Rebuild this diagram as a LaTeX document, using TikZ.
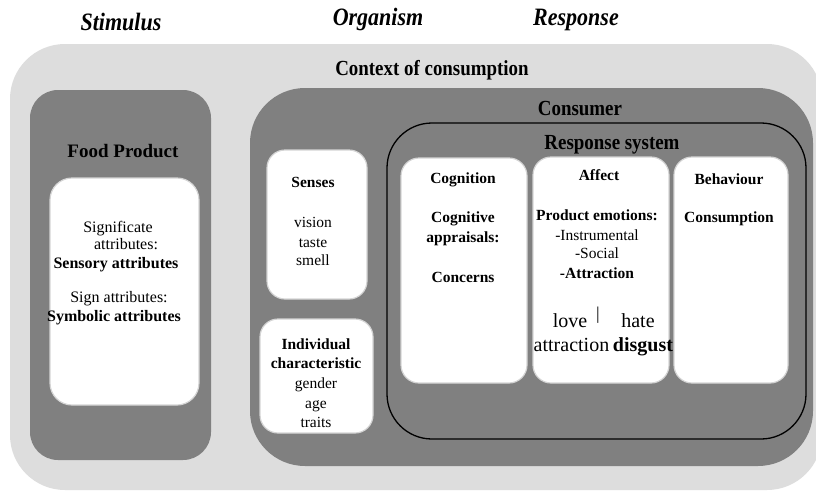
\documentclass[tikz,border=0pt]{standalone}
\usepackage{fontspec}
\setmainfont{Liberation Serif}
\newfontfamily\condfont{Liberation Serif}[FakeStretch=0.88]
\definecolor{lightbg}{HTML}{DDDDDD}
\definecolor{darkbg}{HTML}{808080}
\definecolor{boxline}{HTML}{D4D4D4}
\begin{document}
\begin{tikzpicture}[x=1pt,y=-1pt,
  region/.style={inner sep=0pt,outer sep=0pt},
  whitebox/.style={region,fill=white,draw=boxline,line width=1.2pt,rounded corners=18pt},
  hdr/.style={anchor=base,inner sep=0pt,font=\condfont\fontsize{25}{28}\selectfont\bfseries\itshape},
  ttl/.style={anchor=base,inner sep=0pt,font=\condfont\fontsize{21.5}{24}\selectfont\bfseries},
  txt/.style={anchor=base,inner sep=0pt,font=\fontsize{15.5}{19}\selectfont},
  btxt/.style={anchor=base,inner sep=0pt,font=\fontsize{15.5}{19}\selectfont\bfseries},
  ftxt/.style={anchor=base,inner sep=0pt,font=\fontsize{16}{19}\selectfont},
  fbtxt/.style={anchor=base,inner sep=0pt,font=\fontsize{16}{19}\selectfont\bfseries},
  big/.style={anchor=base,inner sep=0pt,font=\fontsize{20}{24}\selectfont},
]
\useasboundingbox (0,0) rectangle (816,493);
\clip (0,0) rectangle (816,493);
\fill[white] (0,0) rectangle (816,493);

% headers
\node[hdr] (stim) at (121,30) {Stimulus};
\node[hdr] (org) at (378,25) {Organism};
\node[hdr] (resp) at (576,25) {Response};

% context
\node[region,fill=lightbg,rounded corners=55pt,minimum width=812pt,minimum height=446pt] (context) at (416,267) {};
\node[ttl] (contextlbl) at (432,75) {Context of consumption};

% food product
\node[region,fill=darkbg,rounded corners=28pt,minimum width=181pt,minimum height=370pt] (food) at (120.5,275) {};
\node[anchor=base,inner sep=0pt,font=\fontsize{19}{22}\selectfont\bfseries] (foodlbl) at (123,157) {Food Product};
\node[whitebox,rounded corners=22pt,minimum width=149pt,minimum height=227pt] (foodbox) at (124.5,291.5) {};
\node[ftxt] (f1) at (118,232) {Significate};
\node[ftxt] (f2) at (126,249) {attributes:};
\node[fbtxt] (f3) at (116,268) {Sensory attributes};
\node[ftxt] (f4) at (119,302) {Sign attributes:};
\node[fbtxt] (f5) at (114,321) {Symbolic attributes};

% consumer
\node[region,fill=darkbg,rounded corners=55pt,minimum width=563pt,minimum height=378pt] (consumer) at (531.5,277) {};
\node[ttl] (consumerlbl) at (580,115) {Consumer};

% senses
\node[whitebox,minimum width=100pt,minimum height=149pt] (senses) at (317,224.5) {};
\node[btxt] (s0) at (313,187) {Senses};
\node[txt] (s1) at (313,227) {vision};
\node[txt] (s2) at (313,247) {taste};
\node[txt] (s3) at (313,265) {smell};

% individual
\node[whitebox,minimum width=113pt,minimum height=114pt] (indiv) at (316.5,376) {};
\node[btxt] (i0) at (316,349) {Individual};
\node[btxt] (i1) at (316,368) {characteristic};
\node[txt] (i2) at (316,388) {gender};
\node[txt] (i3) at (316,408) {age};
\node[txt] (i4) at (316,427) {traits};

% response system
\node[region,fill=darkbg,draw=black,line width=1.3pt,rounded corners=45pt,minimum width=419pt,minimum height=316pt] (respsys) at (596.5,281) {};
\node[ttl] (respsyslbl) at (612,149) {Response system};

% cognition
\node[whitebox,minimum width=126pt,minimum height=225pt] (cog) at (464,270.5) {};
\node[btxt] (c0) at (463,183) {Cognition};
\node[btxt] (c1) at (463,222) {Cognitive};
\node[btxt] (c2) at (463,242) {appraisals:};
\node[btxt] (c3) at (463,282) {Concerns};

% affect
\node[whitebox,minimum width=136pt,minimum height=226pt] (affect) at (601,270) {};
\node[btxt] (a0) at (599,180) {Affect};
\node[btxt] (a1) at (597,220) {Product emotions:};
\node[txt] (a2) at (597,240) {-Instrumental};
\node[txt] (a3) at (597,258) {-Social};
\node[btxt] (a4) at (597,278) {-Attraction};
\node[big] (love) at (570,327) {love};
\node[anchor=base,inner sep=0pt,font=\fontsize{18}{20}\selectfont] (bar) at (598,319) {|};
\node[big] (hate) at (638,327) {hate};
\node[big] (attr) at (571.5,351) {attraction};
\node[big,font=\fontsize{20}{24}\selectfont\bfseries] (disg) at (643,351) {disgust};

% behaviour
\node[whitebox,minimum width=114pt,minimum height=226pt] (behav) at (731,270) {};
\node[btxt] (b0) at (729,184) {Behaviour};
\node[btxt] (b1) at (729,222) {Consumption};
\end{tikzpicture}
\end{document}
